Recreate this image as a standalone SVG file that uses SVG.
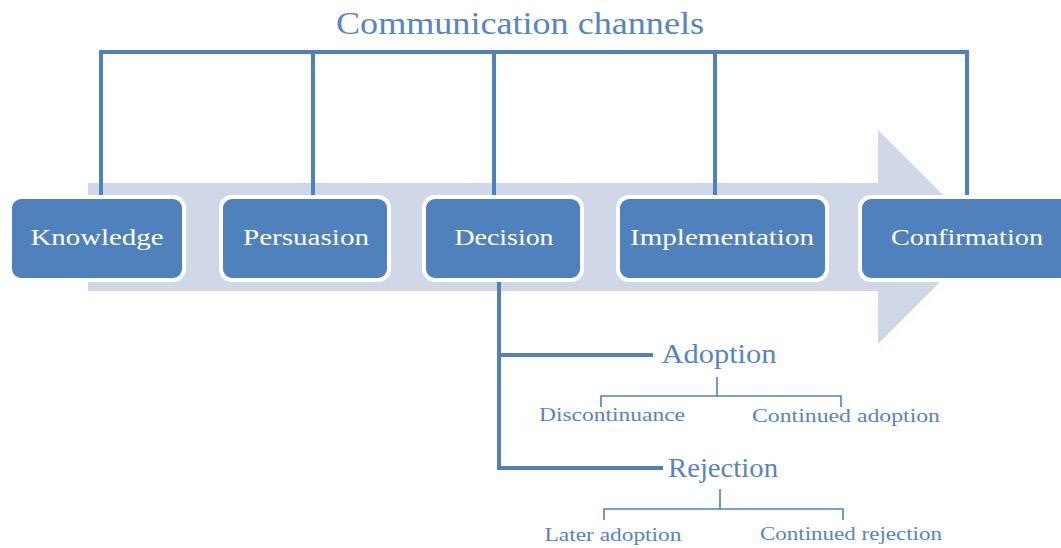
<svg xmlns="http://www.w3.org/2000/svg" width="1061" height="548" viewBox="0 0 1061 548">
  <style>
    .bg { fill: #ffffff; }
    .flow { fill: #d0d8e7; }
    .stage rect { fill: #4f81bd; stroke: #ffffff; stroke-width: 4; }
    .stage text { fill: #ffffff; font-family: "Liberation Serif", "DejaVu Serif", serif; font-size: 23px; text-anchor: middle; }
    .link { fill: none; stroke: #4f81bd; stroke-width: 4; }
    .thin { fill: none; stroke: #4f81bd; stroke-width: 1.6; }
    .title { fill: #5585c3; font-family: "Liberation Serif", "DejaVu Serif", serif; font-size: 31px; text-anchor: middle; }
    .outcome { fill: #5585c3; font-family: "Liberation Serif", "DejaVu Serif", serif; font-size: 27px; text-anchor: middle; }
    .sub { fill: #5585c3; font-family: "Liberation Serif", "DejaVu Serif", serif; font-size: 19px; text-anchor: middle; }
  </style>

  <rect class="bg" x="0" y="0" width="1061" height="548"/>

  <!-- background process arrow -->
  <polygon class="flow" points="88,183 878,183 878,130 985,237 878,344 878,291 88,291"/>

  <text class="title" x="520" y="34" textLength="368" lengthAdjust="spacingAndGlyphs">Communication channels</text>

  <!-- connectors -->
  <g id="connectors">
    <path class="link" d="M101,197 V52 H967 V197"/>
    <path class="link" d="M313,52 V197"/>
    <path class="link" d="M494,52 V197"/>
    <path class="link" d="M715,52 V197"/>
    <path class="link" d="M499,280 V468 H663"/>
    <path class="link" d="M499,355 H653"/>
    <path class="thin" d="M717,377 V396 M601,407 V396 H841 V407"/>
    <path class="thin" d="M720,489 V509 M604,520 V509 H843 V520"/>
  </g>

  <g id="knowledge" class="stage">
    <rect x="10" y="197" width="174" height="83" rx="11"/>
    <text x="97" y="245" textLength="133" lengthAdjust="spacingAndGlyphs">Knowledge</text>
  </g>
  <g id="persuasion" class="stage">
    <rect x="221" y="197" width="168" height="83" rx="11"/>
    <text x="306" y="245" textLength="126" lengthAdjust="spacingAndGlyphs">Persuasion</text>
  </g>
  <g id="decision" class="stage">
    <rect x="424" y="197" width="158" height="83" rx="11"/>
    <text x="504" y="245" textLength="99" lengthAdjust="spacingAndGlyphs">Decision</text>
  </g>
  <g id="implementation" class="stage">
    <rect x="618" y="197" width="209" height="83" rx="11"/>
    <text x="722" y="245" textLength="184" lengthAdjust="spacingAndGlyphs">Implementation</text>
  </g>
  <g id="confirmation" class="stage">
    <rect x="860" y="197" width="215" height="83" rx="11"/>
    <text x="967" y="245" textLength="152" lengthAdjust="spacingAndGlyphs">Confirmation</text>
  </g>

  <g id="adoption">
    <text class="outcome" x="719" y="363" textLength="115" lengthAdjust="spacingAndGlyphs">Adoption</text>
  </g>
  <g id="discontinuance">
    <text class="sub" x="612" y="421" textLength="146" lengthAdjust="spacingAndGlyphs">Discontinuance</text>
  </g>
  <g id="continued-adoption">
    <text class="sub" x="846" y="422" textLength="188" lengthAdjust="spacingAndGlyphs">Continued adoption</text>
  </g>
  <g id="rejection">
    <text class="outcome" x="723" y="477" textLength="110" lengthAdjust="spacingAndGlyphs">Rejection</text>
  </g>
  <g id="later-adoption">
    <text class="sub" x="613" y="541" textLength="137" lengthAdjust="spacingAndGlyphs">Later adoption</text>
  </g>
  <g id="continued-rejection">
    <text class="sub" x="851" y="540" textLength="182" lengthAdjust="spacingAndGlyphs">Continued rejection</text>
  </g>
</svg>
